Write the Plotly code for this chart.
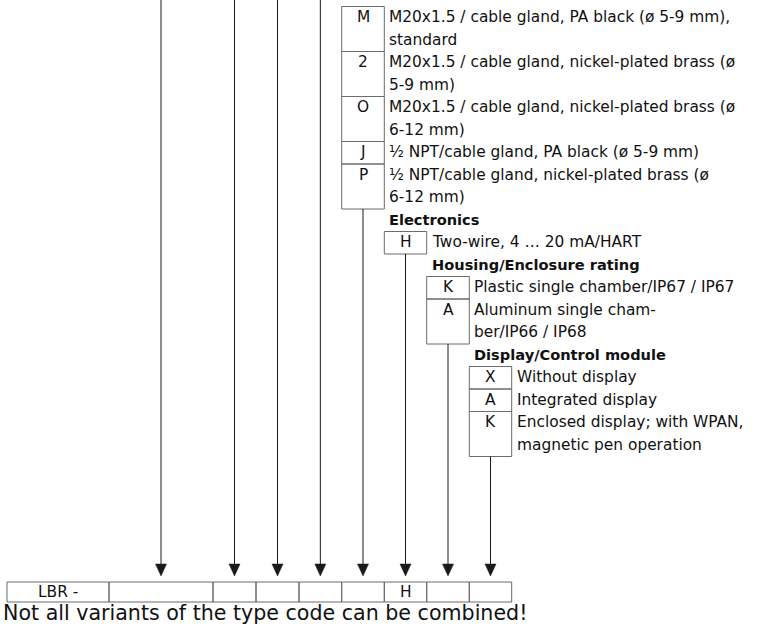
import plotly.graph_objects as go

# ---------------- data ----------------
type_code_cells = ["LBR -", "", "", "", "", "", "H", "", ""]

gland_codes = ["M", "2", "O", "J", "P"]
gland_desc = [
    "M20x1.5 / cable gland, PA black (ø 5-9 mm),\nstandard",
    "M20x1.5 / cable gland, nickel-plated brass (ø\n5-9 mm)",
    "M20x1.5 / cable gland, nickel-plated brass (ø\n6-12 mm)",
    "½ NPT/cable gland, PA black (ø 5-9 mm)",
    "½ NPT/cable gland, nickel-plated brass (ø\n6-12 mm)",
]
electronics_codes = ["H"]
electronics_desc = ["Two-wire, 4 … 20 mA/HART"]
housing_codes = ["K", "A"]
housing_desc = [
    "Plastic single chamber/IP67 / IP67",
    "Aluminum single cham-\nber/IP66 / IP68",
]
display_codes = ["X", "A", "K"]
display_desc = [
    "Without display",
    "Integrated display",
    "Enclosed display; with WPAN,\nmagnetic pen operation",
]
section_titles = [None, "Electronics", "Housing/Enclosure rating", "Display/Control module"]
note_text = "Not all variants of the type code can be combined!"

# ---------------- layout constants ----------------
W, H = 757, 628
cell_edges = [7, 109, 213, 256, 299, 341.7, 384.3, 426.7, 469.3, 511.7]
section_cells = [5, 6, 7, 8]           # which bottom cell each section feeds
sections = [
    (gland_codes, gland_desc),
    (electronics_codes, electronics_desc),
    (housing_codes, housing_desc),
    (display_codes, display_desc),
]
LINE0, LH = 17, 22.5
ROW_TOP_OFF, ROW_BOT_OFF = 10.5, 12
BOX_TOP, BOX_BOT = 582, 602
ARROW_TIP, ARROW_H, ARROW_HW = 576, 12, 5.5
FONT = "DejaVu Sans"
FS = 15.4
FS_BOLD = 14.6
TXT = "#111111"
BOXC = "#6b6b6b"
LINEC = "#1a1a1a"

def yc(k):
    return LINE0 + LH * k

shapes = []
annotations = []

def text(x, y, s, xanchor="left", bold=False, size=FS):
    annotations.append(dict(
        x=x, y=y, xref="x", yref="y", text=(f"<b>{s}</b>" if bold else s),
        showarrow=False, xanchor=xanchor, yanchor="middle", align="left",
        font=dict(family=FONT, size=size, color=TXT), borderpad=0,
    ))

def line(x0, y0, x1, y1, color=LINEC, w=1):
    shapes.append(dict(type="line", x0=x0, y0=y0, x1=x1, y1=y1, xref="x", yref="y",
                       line=dict(color=color, width=w)))

def rect(x0, y0, x1, y1, color=BOXC):
    shapes.append(dict(type="rect", x0=x0, y0=y0, x1=x1, y1=y1, xref="x", yref="y",
                       line=dict(color=color, width=1), fillcolor="rgba(0,0,0,0)"))

centers = [(cell_edges[i] + cell_edges[i + 1]) / 2 for i in range(len(type_code_cells))]

# ---------------- option sections ----------------
k = 0
box_bottoms = {}
for title, (codes, descs), ci in zip(section_titles, sections, section_cells):
    left, right = cell_edges[ci], cell_edges[ci + 1]
    if title:
        text(left + 4, yc(k), title, bold=True, size=FS_BOLD)
        k += 1
    for code, desc in zip(codes, descs):
        lines = desc.split("\n")
        row_top = yc(k) - ROW_TOP_OFF
        row_bot = yc(k + len(lines) - 1) + ROW_BOT_OFF
        rect(left, row_top, right, row_bot)
        text(centers[ci], yc(k), code, xanchor="center")
        for j, ln in enumerate(lines):
            text(right + 4, yc(k + j), ln)
        k += len(lines)
    box_bottoms[ci] = yc(k - 1) + ROW_BOT_OFF

# ---------------- vertical lines and arrows ----------------
for ci in range(1, len(type_code_cells)):
    x = centers[ci]
    y_start = box_bottoms.get(ci, 0)
    line(x, y_start, x, ARROW_TIP - ARROW_H + 1)
    shapes.append(dict(
        type="path", xref="x", yref="y",
        path=f"M {x - ARROW_HW} {ARROW_TIP - ARROW_H} L {x + ARROW_HW} {ARROW_TIP - ARROW_H} L {x} {ARROW_TIP} Z",
        fillcolor=LINEC, line=dict(color=LINEC, width=0.5),
    ))

# ---------------- type code row ----------------
for i, val in enumerate(type_code_cells):
    rect(cell_edges[i], BOX_TOP, cell_edges[i + 1], BOX_BOT)
    if val:
        text(centers[i], (BOX_TOP + BOX_BOT) / 2, val, xanchor="center")

text(2, 613, note_text, size=20.6)

fig = go.Figure()
fig.update_layout(
    width=W, height=H,
    margin=dict(l=0, r=0, t=0, b=0),
    paper_bgcolor="white", plot_bgcolor="white",
    xaxis=dict(range=[0, W], visible=False, fixedrange=True),
    yaxis=dict(range=[H, 0], visible=False, fixedrange=True),
    shapes=shapes, annotations=annotations, showlegend=False,
)
fig.write_html(
    "out.html",
    config={"displayModeBar": False},
    post_script="document.body.style.margin='0px';document.body.style.overflow='hidden';",
)
